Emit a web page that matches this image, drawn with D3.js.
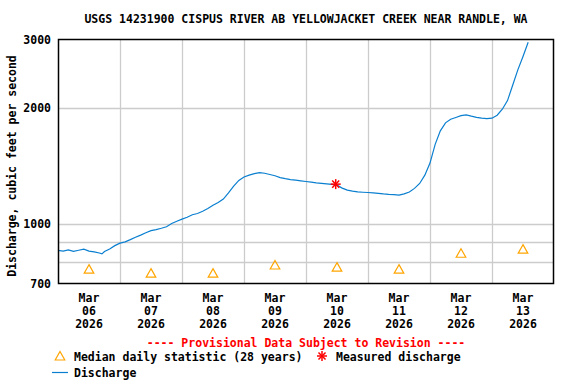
<!DOCTYPE html>
<html>
<head>
<meta charset="utf-8">
<script src="https://cdn.jsdelivr.net/npm/d3@7"></script>
<style>
  body { margin: 0; background: #fff; }
  text { font-family: "DejaVu Sans Mono", "Liberation Mono", monospace; font-weight: bold; font-size: 11.5px; fill: #000; }
</style>
</head>
<body>
<svg id="chart" width="576" height="384"></svg>
<script>
// discharge, hours after Mar 06 2026 00:00
var dischargeHours = [0, 2, 4, 6, 8, 10, 12, 14, 16, 17, 18, 20, 22, 24, 26, 28, 30, 32, 34, 36, 38, 40, 42, 44, 46, 48, 50, 52, 54, 56, 58, 60, 62, 64, 66, 68, 70, 72, 74, 76, 78, 80, 82, 84, 86, 88, 90, 92, 94, 96, 98, 100, 102, 104, 106, 108, 110, 112, 114, 116, 118, 120, 122, 124, 126, 128, 130, 132, 134, 136, 138, 140, 142, 144, 146, 148, 150, 152, 154, 156, 158, 160, 162, 164, 166, 168, 170, 172, 174, 176, 178, 180, 182];
var dischargeValues = [855, 852, 858, 850, 856, 862, 852, 848, 842, 838, 850, 862, 880, 893, 900, 912, 925, 937, 950, 962, 968, 976, 985, 1004, 1018, 1031, 1042, 1058, 1066, 1080, 1098, 1120, 1138, 1162, 1205, 1255, 1298, 1325, 1340, 1352, 1360, 1355, 1345, 1335, 1320, 1312, 1305, 1300, 1295, 1290, 1285, 1280, 1276, 1272, 1268, 1262, 1240, 1225, 1218, 1212, 1210, 1208, 1205, 1202, 1198, 1195, 1193, 1190, 1198, 1212, 1238, 1275, 1340, 1440, 1610, 1745, 1830, 1870, 1890, 1910, 1920, 1905, 1892, 1882, 1878, 1882, 1915, 1985, 2090, 2290, 2510, 2720, 2960];

// median daily statistic, one per day at noon
var medianDays = ["06", "07", "08", "09", "10", "11", "12", "13"];
var medianValues = [765, 747, 747, 784, 774, 765, 841, 862];

// measured discharge
var measuredHours = [107.5];
var measuredValues = [1270];

var yTickValues = [700, 1000, 2000, 3000];
var yGridValues = [800, 900, 1000, 2000];
var tickDays = ["06", "07", "08", "09", "10", "11", "12", "13"];

var title = "USGS 14231900 CISPUS RIVER AB YELLOWJACKET CREEK NEAR RANDLE, WA";

var svg = d3.select("#chart"),
    margin = {top: 40, right: 22, bottom: 100, left: 58},
    width = 576,
    height = 384;

var start = new Date(2026, 2, 6, 0, 0);
var end = new Date(2026, 2, 14, 0, 0);
function hoursToDate(h) { return new Date(start.getTime() + h * 3600000); }

var x_scale = d3.scaleTime()
    .domain([start, end])
    .range([margin.left, width - margin.right]);

var y_scale = d3.scaleLog()
    .domain([700, 3000])
    .range([height - margin.bottom, margin.top]);

// title
svg.append("text")
   .attr("x", 306)
   .attr("y", 23)
   .attr("text-anchor", "middle")
   .text(title);

// grid lines
svg.append("g")
   .selectAll("line")
   .data(yGridValues)
   .enter()
   .append("line")
   .attr("x1", margin.left)
   .attr("x2", width - margin.right)
   .attr("y1", function(d) { return Math.round(y_scale(d)) + 0.5; })
   .attr("y2", function(d) { return Math.round(y_scale(d)) + 0.5; })
   .attr("stroke", "#cccccc")
   .attr("stroke-width", 1.3);

svg.append("g")
   .selectAll("line")
   .data(tickDays.slice(1))
   .enter()
   .append("line")
   .attr("x1", function(d) { return Math.round(x_scale(new Date(2026, 2, +d))) + 0.5; })
   .attr("x2", function(d) { return Math.round(x_scale(new Date(2026, 2, +d))) + 0.5; })
   .attr("y1", margin.top)
   .attr("y2", height - margin.bottom)
   .attr("stroke", "#cccccc")
   .attr("stroke-width", 1.3);

// y tick labels
svg.append("g")
   .selectAll("text")
   .data(yTickValues)
   .enter()
   .append("text")
   .attr("x", 51)
   .attr("y", function(d) { return y_scale(d); })
   .attr("dy", "0.35em")
   .attr("text-anchor", "end")
   .text(function(d) { return d; });

// x tick labels, at noon of each day
var xLabels = svg.append("g")
   .selectAll("text")
   .data(tickDays)
   .enter()
   .append("text")
   .attr("text-anchor", "middle")
   .attr("transform", function(d) {
     return "translate(" + x_scale(new Date(2026, 2, +d, 12)) + ",302)";
   });
xLabels.append("tspan").attr("x", 0).attr("y", 0).text("Mar");
xLabels.append("tspan").attr("x", 0).attr("y", 13).text(function(d) { return d; });
xLabels.append("tspan").attr("x", 0).attr("y", 26).text("2026");

// y axis title
svg.append("text")
   .attr("transform", "translate(16,166) rotate(-90)")
   .attr("text-anchor", "middle")
   .text("Discharge, cubic feet per second");

// discharge line
var line = d3.line()
    .x(function(d) { return x_scale(hoursToDate(d[0])); })
    .y(function(d) { return y_scale(d[1]); });

svg.append("path")
   .datum(dischargeHours.map(function(h, i) { return [h, dischargeValues[i]]; }))
   .attr("d", line)
   .attr("fill", "none")
   .attr("stroke", "#0a7fd0")
   .attr("stroke-width", 1.2);

// median triangles
function triangle(cx, cy) {
  return "M" + cx + "," + (cy - 4.5) + "L" + (cx + 4.8) + "," + (cy + 4) + "L" + (cx - 4.8) + "," + (cy + 4) + "Z";
}
svg.append("g")
   .selectAll("path")
   .data(medianDays)
   .enter()
   .append("path")
   .attr("d", function(d, i) {
     return triangle(x_scale(new Date(2026, 2, +d, 12)), y_scale(medianValues[i]));
   })
   .attr("fill", "none")
   .attr("stroke", "#ffa500")
   .attr("stroke-width", 1.2);

// measured discharge asterisk
function asterisk(g, cx, cy, r) {
  [0, 45, 90, 135].forEach(function(a) {
    var rad = a * Math.PI / 180;
    g.append("line")
     .attr("x1", cx - r * Math.cos(rad)).attr("y1", cy - r * Math.sin(rad))
     .attr("x2", cx + r * Math.cos(rad)).attr("y2", cy + r * Math.sin(rad))
     .attr("stroke", "#ff0000")
     .attr("stroke-width", 1.5);
  });
}
measuredHours.forEach(function(h, i) {
  asterisk(svg.append("g"), x_scale(hoursToDate(h)), y_scale(measuredValues[i]), 5);
});

// plot border
svg.append("rect")
   .attr("x", margin.left + 0.5)
   .attr("y", margin.top - 0.5)
   .attr("width", width - margin.left - margin.right - 1)
   .attr("height", height - margin.top - margin.bottom)
   .attr("fill", "none")
   .attr("stroke", "#000")
   .attr("stroke-width", 1.5);

// legend
svg.append("text")
   .attr("x", 306)
   .attr("y", 347)
   .attr("text-anchor", "middle")
   .style("fill", "#ff0000")
   .text("---- Provisional Data Subject to Revision ----");

svg.append("path")
   .attr("d", triangle(60, 356))
   .attr("fill", "none")
   .attr("stroke", "#ffa500")
   .attr("stroke-width", 1.2);
svg.append("text").attr("x", 74).attr("y", 361).text("Median daily statistic (28 years)");

asterisk(svg.append("g"), 322, 356, 5);
svg.append("text").attr("x", 336).attr("y", 361).text("Measured discharge");

svg.append("line")
   .attr("x1", 52).attr("x2", 68)
   .attr("y1", 372.5).attr("y2", 372.5)
   .attr("stroke", "#0a7fd0")
   .attr("stroke-width", 1.2);
svg.append("text").attr("x", 74).attr("y", 377).text("Discharge");
</script>
</body>
</html>
